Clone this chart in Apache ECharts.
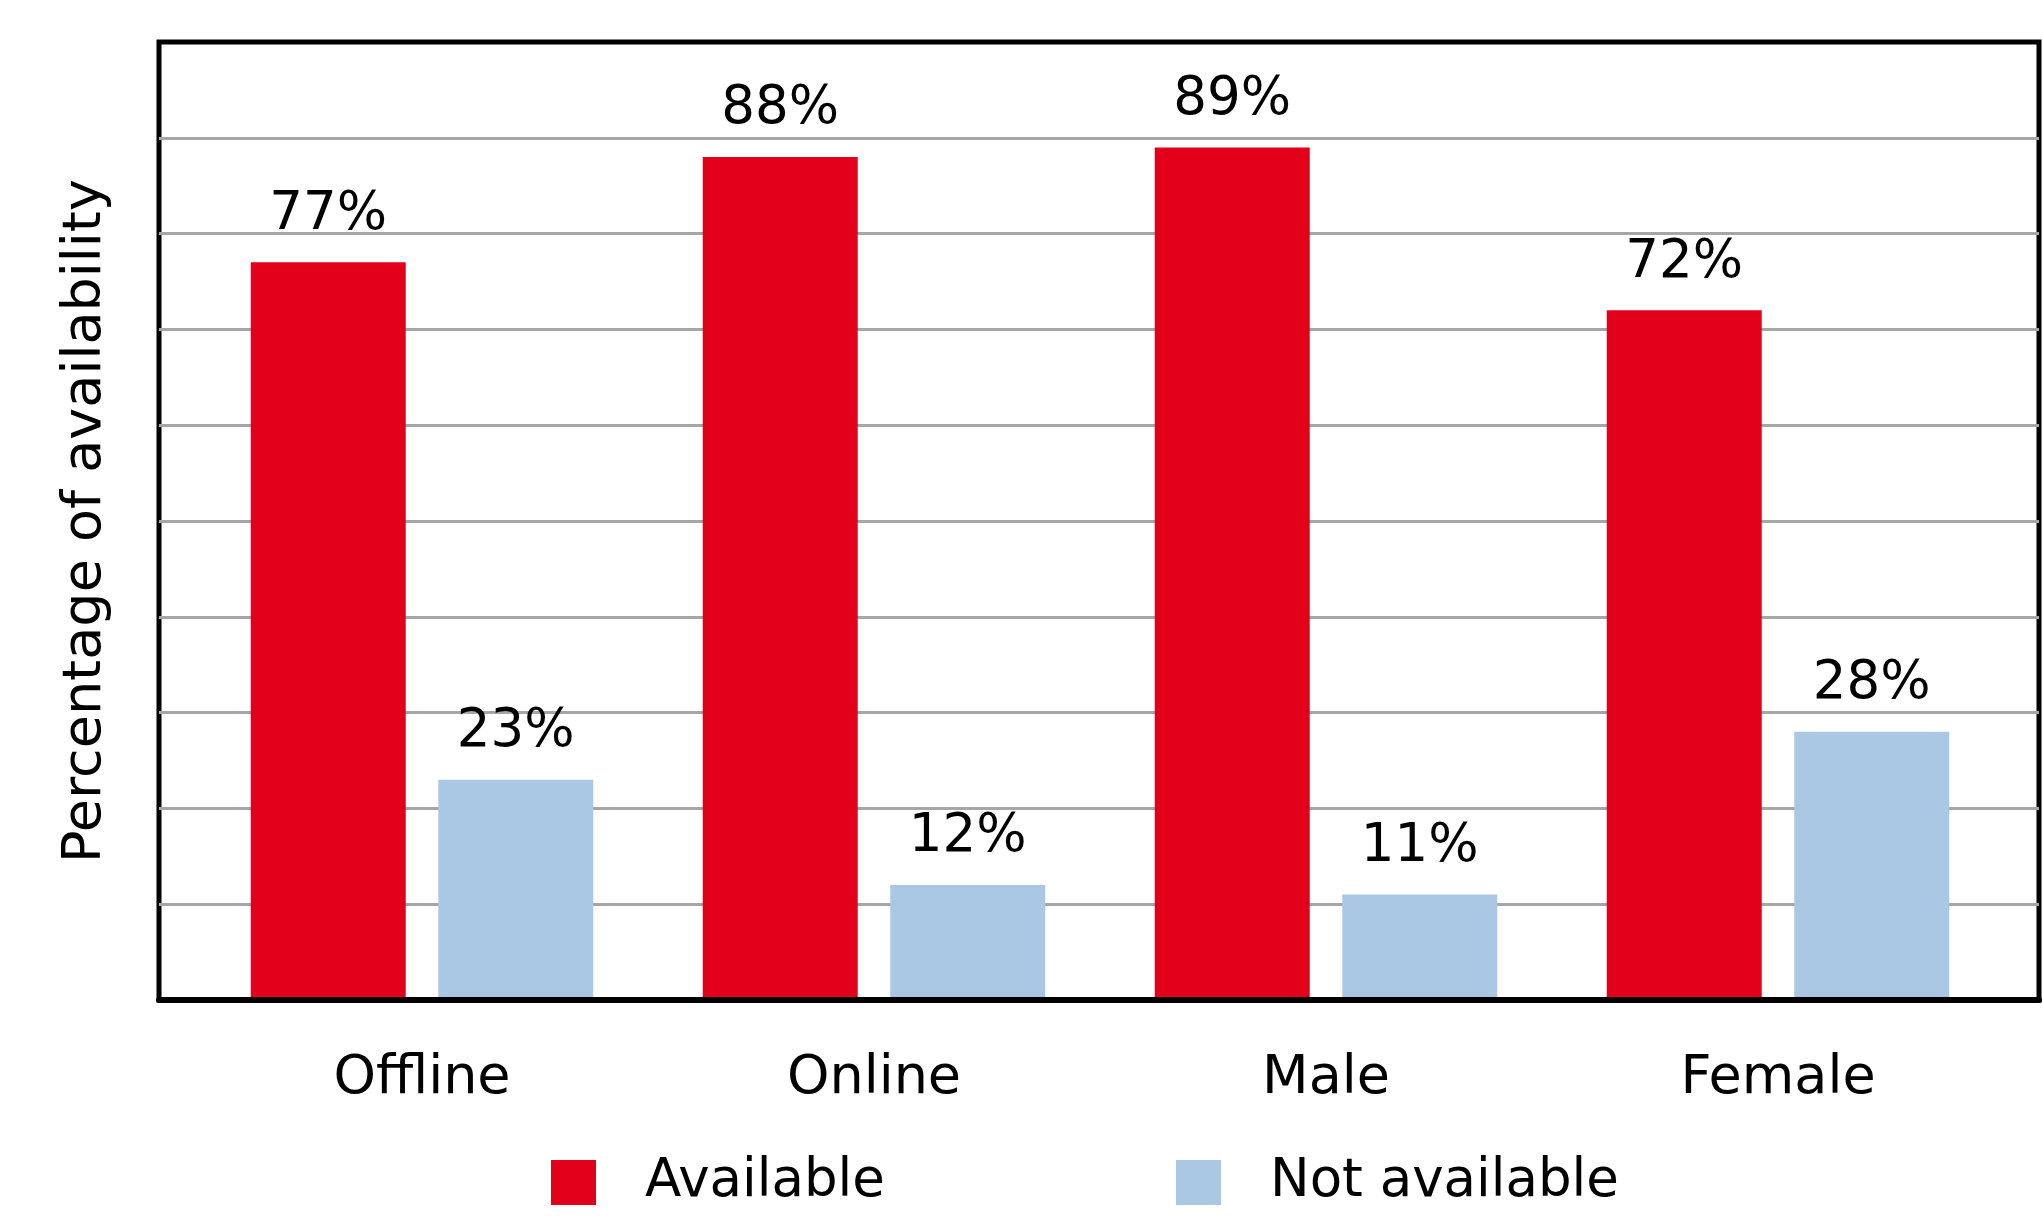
<!DOCTYPE html>
<html>
<head>
<meta charset="utf-8">
<script src="https://cdn.jsdelivr.net/npm/echarts@6/dist/echarts.min.js"></script>
<style>
html,body{margin:0;padding:0;background:#fff;}
#chart{width:2042px;height:1216px;}
</style>
</head>
<body>
<div id="chart"></div>
<script>
const categories = ['Offline', 'Online', 'Male', 'Female'];
const availableValues = [77, 88, 89, 72];
const notAvailableValues = [23, 12, 11, 28];
const seriesNames = ['Available', 'Not available'];
const yAxisTitle = 'Percentage of availability';

const FONT = 'DejaVu Sans';
const chart = echarts.init(document.getElementById('chart'), null, {renderer: 'canvas'});

const labelStyle = {
  show: true,
  position: 'top',
  distance: 21,
  fontFamily: FONT,
  fontSize: 53,
  color: '#000',
  formatter: p => p.value + '%'
};

const legendText = {fontFamily: FONT, fontSize: 53, color: '#000', padding: [22, 0, 0, 44]};

const option = {
  backgroundColor: '#fff',
  animation: false,
  grid: [
    {left: 159, top: 42, width: 1880, height: 958, show: true, borderColor: '#000', borderWidth: 5, backgroundColor: 'transparent'},
    {left: 196, top: 42, width: 1808, height: 958, show: false}
  ],
  xAxis: [
    {
      gridIndex: 0, type: 'value', min: 0, max: 1, z: 10,
      axisLine: {show: true, lineStyle: {color: '#000', width: 6}},
      axisTick: {show: false}, axisLabel: {show: false}, splitLine: {show: false}
    },
    {
      gridIndex: 1, type: 'category', data: categories,
      axisLine: {show: false}, axisTick: {show: false},
      axisLabel: {margin: 52, fontFamily: FONT, fontSize: 54, color: '#000'}
    }
  ],
  yAxis: [
    {
      gridIndex: 0, type: 'value', min: 0, max: 100, interval: 10,
      axisLine: {show: false}, axisTick: {show: false}, axisLabel: {show: false},
      splitLine: {show: true, showMinLine: false, showMaxLine: false, lineStyle: {color: '#a6a6a6', width: 3}},
      name: yAxisTitle, nameLocation: 'middle', nameGap: 46, nameRotate: 90,
      nameTextStyle: {fontFamily: FONT, fontSize: 54, color: '#000'}
    },
    {gridIndex: 1, type: 'value', min: 0, max: 100, show: false}
  ],
  legend: [
    {
      data: [seriesNames[0]], left: 551, top: 1156, padding: 0, itemWidth: 45, itemHeight: 45,
      icon: 'rect', textStyle: legendText
    },
    {
      data: [seriesNames[1]], left: 1176, top: 1156, padding: 0, itemWidth: 45, itemHeight: 45,
      icon: 'rect', textStyle: legendText
    }
  ],
  series: [
    {
      name: seriesNames[0], type: 'bar', xAxisIndex: 1, yAxisIndex: 1,
      data: availableValues, barWidth: 155, barGap: '21%',
      itemStyle: {color: '#E2001A'}, label: labelStyle, z: 3
    },
    {
      name: seriesNames[1], type: 'bar', xAxisIndex: 1, yAxisIndex: 1,
      data: notAvailableValues, barWidth: 155, barGap: '21%',
      itemStyle: {color: '#AAC8E3'}, label: labelStyle, z: 3
    }
  ]
};
chart.setOption(option);
</script>
</body>
</html>
